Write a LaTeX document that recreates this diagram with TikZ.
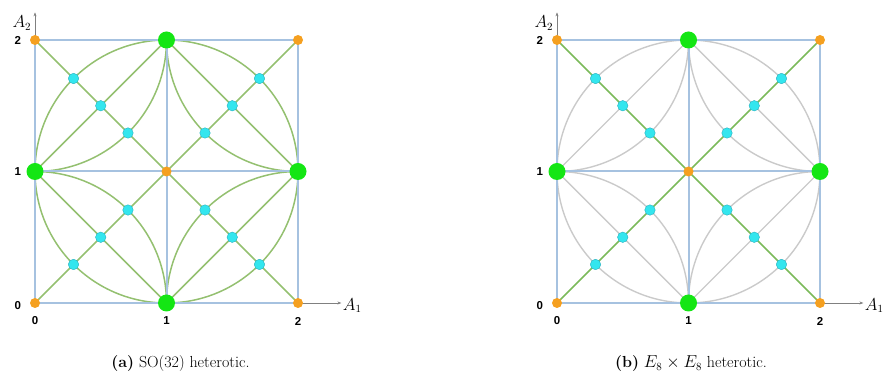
\documentclass[tikz,border=0pt]{standalone}
\usepackage{fontspec}
\newfontfamily\tickfont{Liberation Sans}
\usetikzlibrary{arrows.meta}
\definecolor{gridblue}{HTML}{A6C2E0}
\definecolor{curvegreen}{HTML}{94C070}
\definecolor{diaggreen}{HTML}{7BBA5A}
\definecolor{curvegray}{HTML}{CACACA}
\definecolor{ptgreen}{HTML}{14E614}
\definecolor{ptorange}{HTML}{F5A020}
\definecolor{ptcyan}{HTML}{33E6EE}
\definecolor{cyanedge}{HTML}{2AB0C0}
\definecolor{axisgray}{HTML}{808080}
\pgfdeclarelayer{bg}
\pgfdeclarelayer{mid}
\pgfsetlayers{bg,mid,main}
\newcommand{\captionsize}{\fontsize{16}{19}\selectfont}
\tikzset{
 gridline/.style={draw=gridblue, line width=1.9pt},
 midline/.style={draw=gridblue, line width=2pt},
 curveA/.style={draw=curvegreen,line width=1.5pt},
 curveB/.style={draw=curvegray,line width=1.4pt},
 diagB/.style={draw=diaggreen,line width=1.6pt},
 greenpt/.style={circle,fill=ptgreen,inner sep=0pt,minimum size=17pt},
 orangept/.style={circle,fill=ptorange,inner sep=0pt,minimum size=10pt},
 cyanpt/.style={circle,fill=ptcyan,draw=cyanedge,line width=0.4pt,inner sep=0pt,minimum size=10.5pt},
 axisarrow/.style={draw=axisgray,line width=0.6pt,-{Stealth[length=4pt,width=3pt]}},
 ticklabel/.style={font=\tickfont\bfseries\fontsize{11.5}{13}\selectfont,inner sep=0pt},
 axislabel/.style={font=\fontsize{16}{18}\selectfont,inner sep=0pt},
 caption/.style={inner sep=0pt,anchor=base},
}
\newcommand{\latticepanel}[4]{%
\begin{scope}[shift={(#2,79pt)},x=131.5pt,y=131.5pt]
 \node[orangept] (#1o00) at (0,0) {};
 \node[orangept] (#1o20) at (2,0) {};
 \node[orangept] (#1o02) at (0,2) {};
 \node[orangept] (#1o22) at (2,2) {};
 \node[orangept] (#1c) at (1,1) {};
 \node[greenpt] (#1gb) at (1,0) {};
 \node[greenpt] (#1gl) at (0,1) {};
 \node[greenpt] (#1gr) at (2,1) {};
 \node[greenpt] (#1gt) at (1,2) {};
 \foreach \d/\n in {0.2929/1,0.5/2,0.7071/3}{
   \node[cyanpt] (#1bl\n) at (\d,\d) {};
   \node[cyanpt] (#1tr\n) at (2-\d,2-\d) {};
   \node[cyanpt] (#1tl\n) at (\d,2-\d) {};
   \node[cyanpt] (#1br\n) at (2-\d,\d) {};
 }
 \coordinate (#1xend) at (2.33,0);
 \coordinate (#1yend) at (0,2.21);
 \node[axislabel,anchor=west] (#1xlab) at (2.34,-0.02) {$A_1$};
 \node[axislabel] (#1ylab) at (-0.1,2.13) {$A_2$};
 \node[ticklabel] (#1ty0) at (-0.13,-0.02) {0};
 \node[ticklabel] (#1ty1) at (-0.13,1) {1};
 \node[ticklabel] (#1ty2) at (-0.13,2) {2};
 \node[ticklabel] (#1tx0) at (0,-0.137) {0};
 \node[ticklabel] (#1tx1) at (1,-0.137) {1};
 \node[ticklabel] (#1tx2) at (2,-0.137) {2};
 \begin{pgfonlayer}{bg}
  \draw[axisarrow] (#1o00.center) -- (#1xend);
  \draw[axisarrow] (#1o00.center) -- (#1yend);
  \draw[#3] (#1c.center) circle[radius=1];
  \draw[#3] (#1gl.center) -- (#1gt.center) -- (#1gr.center) -- (#1gb.center) -- cycle;
  \draw[#3] (#1gb.center) arc[start angle=0,end angle=90,radius=1];
  \draw[#3] (#1gb.center) arc[start angle=180,end angle=90,radius=1];
  \draw[#3] (#1gt.center) arc[start angle=180,end angle=270,radius=1];
  \draw[#3] (#1gt.center) arc[start angle=0,end angle=-90,radius=1];
  \draw[#4] (#1o00.center) -- (#1c.center) -- (#1o22.center);
  \draw[#4] (#1o02.center) -- (#1c.center) -- (#1o20.center);
 \end{pgfonlayer}
 \begin{pgfonlayer}{mid}
  \draw[gridline] (#1o00.center) rectangle (#1o22.center);
  \draw[midline] (#1gb.center) -- (#1gt.center);
  \draw[midline] (#1gl.center) -- (#1gr.center);
 \end{pgfonlayer}
\end{scope}}
\begin{document}
\begin{tikzpicture}
 \useasboundingbox (0,0) rectangle (889pt,382pt);
 \latticepanel{a}{35pt}{curveA}{curveA}
 \latticepanel{b}{557pt}{curveB}{diagB}
 \node[caption] (capa) at (180.5pt,14pt) {\captionsize\textbf{(a)} SO(32) heterotic.};
 \node[caption] (capb) at (691pt,14pt) {\captionsize\textbf{(b)} $E_8\times E_8$ heterotic.};
\end{tikzpicture}
\end{document}
